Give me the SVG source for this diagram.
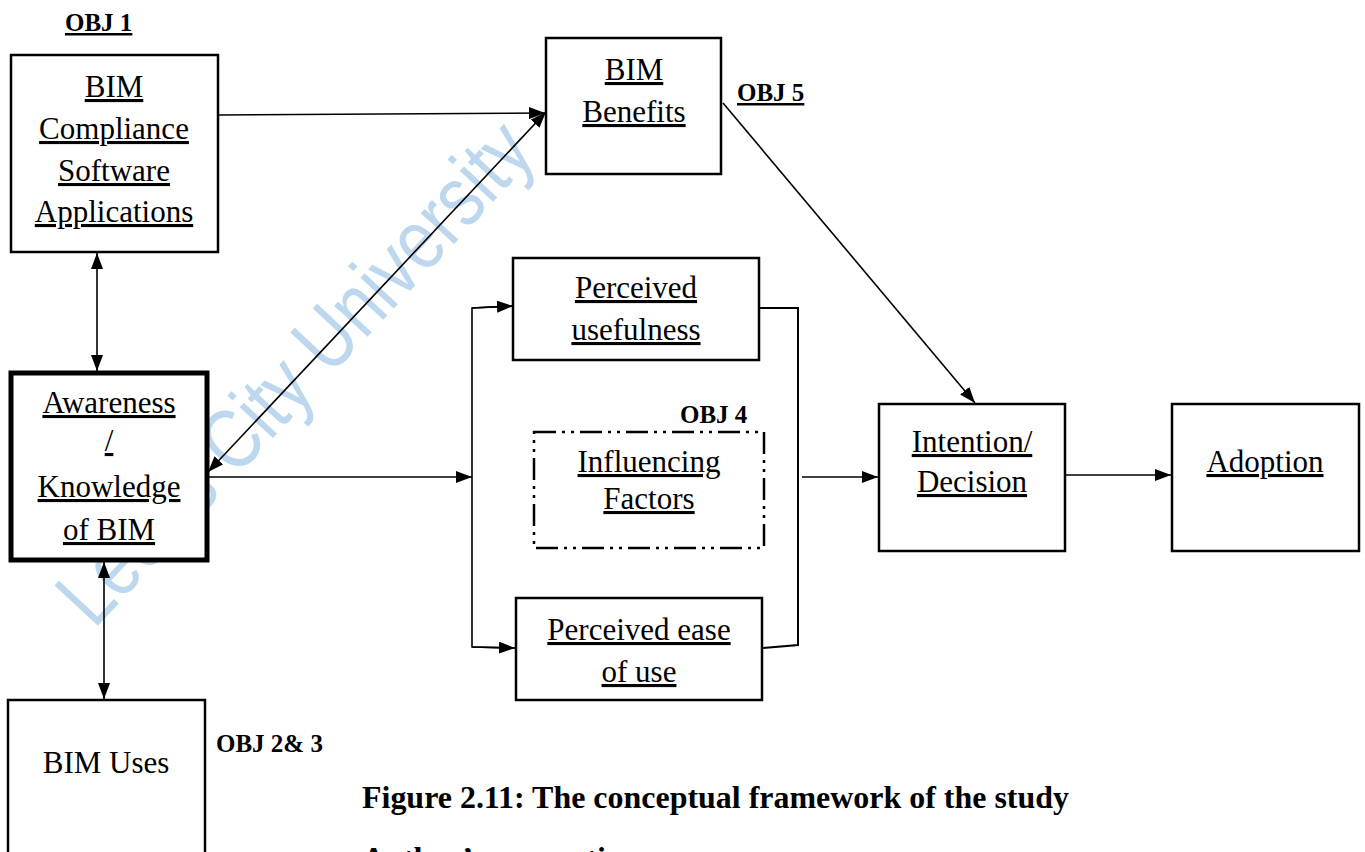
<svg xmlns="http://www.w3.org/2000/svg" width="1365" height="852" viewBox="0 0 1365 852">
  <style>
    .box { fill: #ffffff; stroke: #000000; stroke-width: 2.5; }
    .thick { stroke-width: 5; }
    .dashed { fill: none; stroke-dasharray: 22 6 3 6 3 6; }
    .lbl { font-family: "Liberation Serif", "Times New Roman", serif; font-size: 31px; fill: #000; text-anchor: middle; text-decoration: underline; }
    .plain { text-decoration: none; }
    .obj { font-family: "Liberation Serif", "Times New Roman", serif; font-size: 25px; font-weight: bold; fill: #000; }
    .ul { text-decoration: underline; }
    .cap { font-family: "Liberation Serif", "Times New Roman", serif; font-size: 32px; font-weight: bold; fill: #000; }
    .wm { font-family: "Liberation Sans", Arial, sans-serif; font-size: 86px; fill: #bdd7ee; }
    .conn { fill: none; stroke: #000; stroke-width: 1.6; }
  </style>
  <defs>
    <marker id="arrow" viewBox="0 0 16 12" refX="16" refY="6" markerWidth="16" markerHeight="12" markerUnits="userSpaceOnUse" orient="auto-start-reverse">
      <path d="M0,0 L16,6 L0,12 Z" fill="#000"/>
    </marker>
  </defs>

  <rect width="1365" height="852" fill="#ffffff"/>

  <!-- watermark, sitting behind the white-filled boxes -->
  <text class="wm" transform="translate(94,630) rotate(-47)" textLength="650" lengthAdjust="spacingAndGlyphs">Leeds City University</text>

  <!-- connectors -->
  <g id="connectors">
    <line class="conn" x1="218" y1="115" x2="545" y2="113" marker-end="url(#arrow)"/>
    <line class="conn" x1="208" y1="472" x2="546" y2="112" marker-start="url(#arrow)" marker-end="url(#arrow)"/>
    <line class="conn" x1="97" y1="253" x2="97" y2="371" marker-start="url(#arrow)" marker-end="url(#arrow)"/>
    <line class="conn" x1="104" y1="562" x2="104" y2="699" marker-start="url(#arrow)" marker-end="url(#arrow)"/>
    <line class="conn" x1="208" y1="477" x2="472" y2="477" marker-end="url(#arrow)"/>
    <polyline class="conn" points="513,306 472,308 472,647 515,648" />
    <line class="conn" x1="472" y1="308" x2="513" y2="306" marker-end="url(#arrow)"/>
    <line class="conn" x1="472" y1="647" x2="515" y2="648" marker-end="url(#arrow)"/>
    <polyline class="conn" points="760,308 798,308 798,645 763,648" style="stroke-width:2"/>
    <line class="conn" x1="802" y1="477" x2="878" y2="477" marker-end="url(#arrow)"/>
    <line class="conn" x1="723" y1="103" x2="975" y2="403" marker-end="url(#arrow)"/>
    <line class="conn" x1="1066" y1="475" x2="1171" y2="475" marker-end="url(#arrow)"/>
  </g>

  <g id="node-software">
    <rect class="box" x="11" y="55" width="207" height="197"/>
    <text class="lbl" x="114" y="97">BIM</text>
    <text class="lbl" x="114" y="139">Compliance</text>
    <text class="lbl" x="114" y="181">Software</text>
    <text class="lbl" x="114" y="222">Applications</text>
  </g>
  <text class="obj ul" x="65" y="31">OBJ 1</text>

  <g id="node-benefits">
    <rect class="box" x="546" y="38" width="175" height="136"/>
    <text class="lbl" x="634" y="80">BIM</text>
    <text class="lbl" x="634" y="122">Benefits</text>
  </g>
  <text class="obj ul" x="737" y="101">OBJ 5</text>

  <g id="node-awareness">
    <rect class="box thick" x="11" y="373" width="196" height="187"/>
    <text class="lbl" x="109" y="413">Awareness</text>
    <text class="lbl" x="109" y="451">/</text>
    <text class="lbl" x="109" y="497">Knowledge</text>
    <text class="lbl" x="109" y="540">of BIM</text>
  </g>

  <g id="node-uses">
    <rect class="box" x="8" y="700" width="197" height="170"/>
    <text class="lbl plain" x="106" y="773">BIM Uses</text>
  </g>
  <text class="obj" x="216" y="752">OBJ 2&amp; 3</text>

  <g id="node-usefulness">
    <rect class="box" x="513" y="258" width="246" height="102"/>
    <text class="lbl" x="636" y="298">Perceived</text>
    <text class="lbl" x="636" y="340">usefulness</text>
  </g>

  <g id="node-influencing">
    <rect class="box dashed" x="534" y="432" width="230" height="116"/>
    <text class="lbl" x="649" y="472">Influencing</text>
    <text class="lbl" x="649" y="509">Factors</text>
  </g>
  <text class="obj" x="680" y="423">OBJ 4</text>

  <g id="node-ease">
    <rect class="box" x="516" y="598" width="246" height="102"/>
    <text class="lbl" x="639" y="640">Perceived ease</text>
    <text class="lbl" x="639" y="682">of use</text>
  </g>

  <g id="node-intention">
    <rect class="box" x="879" y="404" width="186" height="147"/>
    <text class="lbl" x="972" y="452">Intention/</text>
    <text class="lbl" x="972" y="492">Decision</text>
  </g>

  <g id="node-adoption">
    <rect class="box" x="1172" y="404" width="187" height="147"/>
    <text class="lbl" x="1265" y="472">Adoption</text>
  </g>

  <text class="cap" x="362" y="808" textLength="707" lengthAdjust="spacingAndGlyphs">Figure 2.11: The conceptual framework of the study</text>
  <text class="cap" x="362" y="869">Author’s conception</text>
</svg>
